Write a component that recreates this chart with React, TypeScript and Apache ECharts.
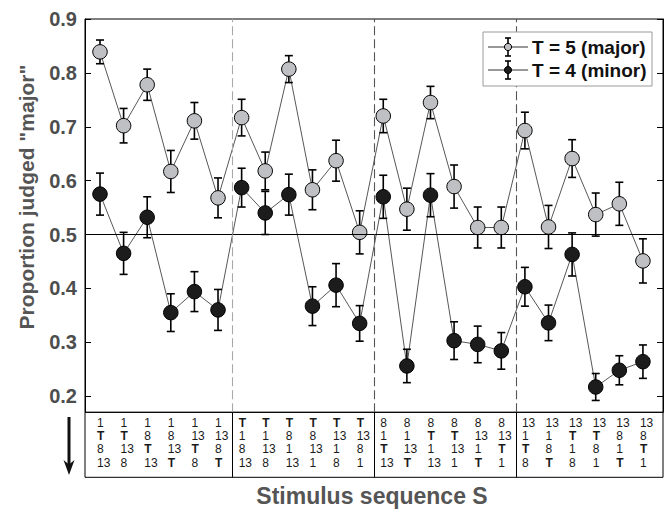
import React, { useEffect, useRef } from 'react';
import * as echarts from 'echarts';

// Stimulus sequences (one column of the table per data point)
const sequences: string[] = [
  '1 T 8 13', '1 T 13 8', '1 8 T 13', '1 8 13 T', '1 13 T 8', '1 13 8 T',
  'T 1 8 13', 'T 1 13 8', 'T 8 1 13', 'T 8 13 1', 'T 13 1 8', 'T 13 8 1',
  '8 1 T 13', '8 1 13 T', '8 T 1 13', '8 T 13 1', '8 13 1 T', '8 13 T 1',
  '13 1 T 8', '13 1 8 T', '13 T 1 8', '13 T 8 1', '13 8 1 T', '13 8 T 1',
];

// T = 5 (major)
const majorMean: number[] = [
  0.839, 0.702, 0.778, 0.617, 0.711, 0.568,
  0.717, 0.618, 0.807, 0.583, 0.637, 0.504,
  0.720, 0.547, 0.745, 0.589, 0.513, 0.513,
  0.693, 0.514, 0.641, 0.537, 0.557, 0.451,
];
const majorErr: number[] = [
  0.022, 0.032, 0.029, 0.039, 0.034, 0.037,
  0.034, 0.035, 0.025, 0.037, 0.038, 0.040,
  0.031, 0.039, 0.030, 0.040, 0.038, 0.038,
  0.034, 0.040, 0.035, 0.040, 0.040, 0.041,
];

// T = 4 (minor)
const minorMean: number[] = [
  0.575, 0.465, 0.532, 0.355, 0.394, 0.360,
  0.587, 0.540, 0.574, 0.367, 0.406, 0.335,
  0.570, 0.256, 0.573, 0.303, 0.296, 0.284,
  0.403, 0.336, 0.463, 0.217, 0.248, 0.264,
];
const minorErr: number[] = [
  0.039, 0.039, 0.038, 0.035, 0.037, 0.038,
  0.036, 0.040, 0.038, 0.036, 0.040, 0.033,
  0.040, 0.031, 0.040, 0.035, 0.034, 0.034,
  0.036, 0.033, 0.040, 0.025, 0.027, 0.031,
];

const yTicks: number[] = [0.2, 0.3, 0.4, 0.5, 0.6, 0.7, 0.8, 0.9];
const groupDividers: number[] = [6.6, 12.6, 18.65];
const referenceLevel = 0.5;
const legendLabels: string[] = ['T = 5 (major)', 'T = 4 (minor)'];

const FONT = 'Liberation Sans, Arial, Helvetica, sans-serif';
const GRAY_FILL = '#bfc0c3';
const DARK_FILL = '#1c1c1c';

export default function App() {
  const ref = useRef<HTMLDivElement>(null);

  useEffect(() => {
    if (!ref.current) return;
    const chart = echarts.init(ref.current, undefined, { renderer: 'svg' });

    const xs = sequences.map((_, i) => i + 1);
    const majorPts = xs.map((x, i) => [x, majorMean[i]]);
    const minorPts = xs.map((x, i) => [x, minorMean[i]]);
    const majorBars = xs.map((x, i) => [x, majorMean[i], majorErr[i]]);
    const minorBars = xs.map((x, i) => [x, minorMean[i], minorErr[i]]);

    const tableTokens: string[] = [];
    const tableData: number[][] = [];
    sequences.forEach((s, i) => {
      s.split(' ').forEach((tok, r) => {
        tableTokens.push(tok);
        tableData.push([i + 1, r]);
      });
    });

    const errRender = (params: any, api: any) => {
      const x = api.value(0);
      const m = api.value(1);
      const e = api.value(2);
      const top = api.coord([x, m + e]);
      const bot = api.coord([x, m - e]);
      const cw = 4;
      const style = { stroke: '#000', lineWidth: 1.6 };
      return {
        type: 'group',
        children: [
          { type: 'line', shape: { x1: top[0], y1: top[1], x2: bot[0], y2: bot[1] }, style },
          { type: 'line', shape: { x1: top[0] - cw, y1: top[1], x2: top[0] + cw, y2: top[1] }, style },
          { type: 'line', shape: { x1: bot[0] - cw, y1: bot[1], x2: bot[0] + cw, y2: bot[1] }, style },
        ],
      };
    };

    const tableRender = (params: any, api: any) => {
      const p = api.coord([api.value(0), api.value(1)]);
      const tok = tableTokens[params.dataIndex];
      const bold = tok === 'T';
      return {
        type: 'text',
        x: p[0] - 3,
        y: p[1],
        style: {
          text: tok,
          fill: '#1a1a1a',
          font: `${bold ? 'bold ' : ''}12px ${FONT}`,
          textAlign: 'left',
          textVerticalAlign: 'middle',
          align: 'left',
          verticalAlign: 'middle',
        },
      };
    };

    const Z = 100;
    const legendItem = (y: number, fill: string, label: string) => [
      { type: 'line', z: Z, shape: { x1: 488, y1: y, x2: 528, y2: y }, style: { stroke: '#333', lineWidth: 1 } },
      { type: 'line', z: Z, shape: { x1: 508, y1: y - 9, x2: 508, y2: y + 9 }, style: { stroke: '#000', lineWidth: 1.6 } },
      { type: 'line', z: Z, shape: { x1: 505, y1: y - 9, x2: 511, y2: y - 9 }, style: { stroke: '#000', lineWidth: 1.6 } },
      { type: 'line', z: Z, shape: { x1: 505, y1: y + 9, x2: 511, y2: y + 9 }, style: { stroke: '#000', lineWidth: 1.6 } },
      { type: 'circle', z: Z + 1, shape: { cx: 508, cy: y, r: 3.6 }, style: { fill, stroke: '#000', lineWidth: 1 } },
      {
        type: 'text', z: Z, x: 532, y,
        style: { text: label, fill: '#111', font: `bold 19px ${FONT}`, textVerticalAlign: 'middle', verticalAlign: 'middle' },
      },
    ];

    const option: any = {
      animation: false,
      backgroundColor: '#fff',
      textStyle: { fontFamily: FONT },
      grid: [
        { left: 85, top: 19, width: 578, height: 393.3, show: true, borderColor: '#000', borderWidth: 1, backgroundColor: 'transparent' },
        { left: 85, top: 412.3, width: 578, height: 65, show: true, borderColor: '#000', borderWidth: 1, backgroundColor: 'transparent' },
      ],
      xAxis: [
        { type: 'value', gridIndex: 0, min: 0.365, max: 24.85, axisLine: { show: false }, axisTick: { show: false }, axisLabel: { show: false }, splitLine: { show: false } },
        { type: 'value', gridIndex: 1, min: 0.365, max: 24.85, axisLine: { show: false }, axisTick: { show: false }, axisLabel: { show: false }, splitLine: { show: false } },
      ],
      yAxis: [
        {
          type: 'value', gridIndex: 0, min: 0.17, max: 0.9, position: 'left',
          axisLine: { show: true, lineStyle: { color: '#000' } },
          axisTick: { show: true, inside: true, length: 6, customValues: yTicks, lineStyle: { color: '#000' } },
          axisLabel: {
            show: true, customValues: yTicks, formatter: (v: number) => v.toFixed(1),
            color: '#4d4d4d', fontSize: 20, fontWeight: 'bold', fontFamily: FONT, margin: 8,
          },
          splitLine: { show: false },
        },
        {
          type: 'value', gridIndex: 0, min: 0.17, max: 0.9, position: 'right',
          axisLine: { show: true, lineStyle: { color: '#000' } },
          axisTick: { show: true, inside: true, length: 6, customValues: yTicks, lineStyle: { color: '#000' } },
          axisLabel: { show: false },
          splitLine: { show: false },
        },
        {
          type: 'value', gridIndex: 1, min: -0.79, max: 4.09, inverse: true,
          axisLine: { show: false }, axisTick: { show: false }, axisLabel: { show: false }, splitLine: { show: false },
        },
      ],
      series: [
        {
          type: 'line', name: legendLabels[0], xAxisIndex: 0, yAxisIndex: 0, data: majorPts,
          showSymbol: false, lineStyle: { color: '#444', width: 0.9 }, z: 2, silent: true,
          markLine: {
            silent: true, symbol: 'none', label: { show: false },
            data: [
              { yAxis: referenceLevel, lineStyle: { color: '#000', type: 'solid', width: 1 } },
              ...groupDividers.map((d, i) => ({
                xAxis: d,
                lineStyle: { color: i === 0 ? '#a8a8a8' : '#555', type: [9, 4], width: 1.1 },
              })),
            ],
          },
        },
        {
          type: 'line', name: legendLabels[1], xAxisIndex: 0, yAxisIndex: 0, data: minorPts,
          showSymbol: false, lineStyle: { color: '#444', width: 0.9 }, z: 2, silent: true,
        },
        { type: 'custom', xAxisIndex: 0, yAxisIndex: 0, data: majorBars, renderItem: errRender, encode: { x: 0, y: 1 }, z: 3, silent: true },
        { type: 'custom', xAxisIndex: 0, yAxisIndex: 0, data: minorBars, renderItem: errRender, encode: { x: 0, y: 1 }, z: 3, silent: true },
        {
          type: 'scatter', xAxisIndex: 0, yAxisIndex: 0, data: majorPts, symbol: 'circle', symbolSize: 14.5,
          itemStyle: { color: GRAY_FILL, borderColor: '#000', borderWidth: 1, opacity: 1 }, z: 4, silent: true,
        },
        {
          type: 'scatter', xAxisIndex: 0, yAxisIndex: 0, data: minorPts, symbol: 'circle', symbolSize: 14.5,
          itemStyle: { color: DARK_FILL, borderColor: '#000', borderWidth: 1, opacity: 1 }, z: 4, silent: true,
        },
        {
          type: 'custom', xAxisIndex: 1, yAxisIndex: 2, data: tableData, renderItem: tableRender,
          encode: { x: 0, y: 1 }, silent: true, z: 3,
          markLine: {
            silent: true, symbol: 'none', label: { show: false },
            lineStyle: { color: '#000', type: 'solid', width: 1 },
            data: groupDividers.map((d) => ({ xAxis: d })),
          },
        },
      ],
      graphic: [
        {
          type: 'text', x: 26, y: 197, rotation: Math.PI / 2,
          style: {
            text: 'Proportion judged "major"', fill: '#555', font: `bold 21px ${FONT}`,
            textAlign: 'center', textVerticalAlign: 'middle', align: 'center', verticalAlign: 'middle',
          },
        },
        {
          type: 'text', x: 372, y: 496,
          style: {
            text: 'Stimulus sequence S', fill: '#555', font: `bold 23px ${FONT}`,
            textAlign: 'center', textVerticalAlign: 'middle', align: 'center', verticalAlign: 'middle',
          },
        },
        { type: 'line', shape: { x1: 69, y1: 417, x2: 69, y2: 466 }, style: { stroke: '#111', lineWidth: 3 } },
        { type: 'polygon', shape: { points: [[63.5, 460], [69, 464.5], [74.5, 460], [69, 475]] }, style: { fill: '#111' } },
        {
          type: 'rect', z: Z - 1, shape: { x: 483, y: 32, width: 169, height: 54 },
          style: { fill: '#fff', stroke: '#9a9a9a', lineWidth: 1 },
        },
        ...legendItem(47, GRAY_FILL, legendLabels[0]),
        ...legendItem(70, DARK_FILL, legendLabels[1]),
      ],
    };

    chart.setOption(option);
    return () => chart.dispose();
  }, []);

  return <div ref={ref} style={{ position: 'fixed', left: 0, top: 0, width: 667, height: 511 }} />;
}
